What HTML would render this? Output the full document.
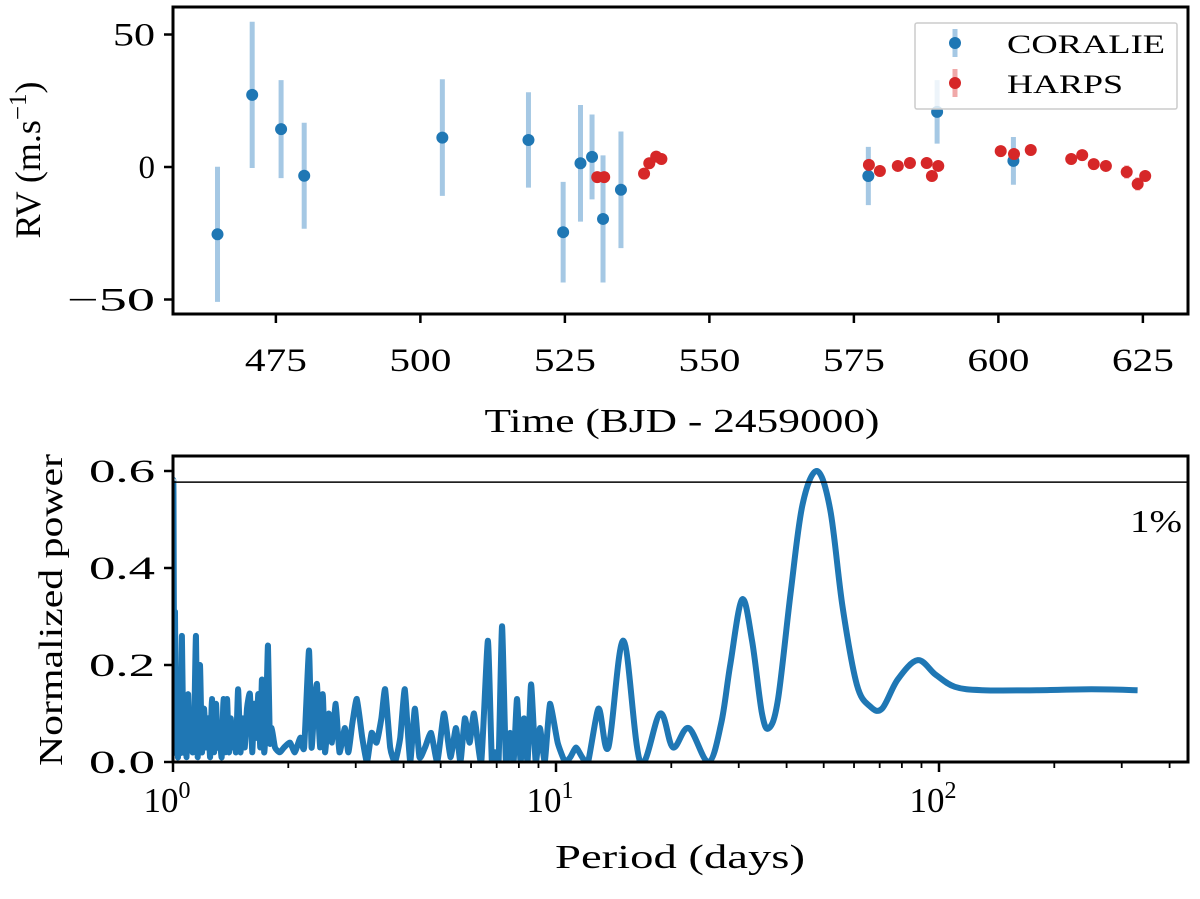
<!DOCTYPE html>
<html><head><meta charset="utf-8"><style>
body{margin:0;background:#fff}
svg text{font-family:"Liberation Serif","DejaVu Serif",serif;fill:#000}
</style></head><body>
<svg id="fig" width="1200" height="894" viewBox="0 0 1200 894" xmlns="http://www.w3.org/2000/svg">
<defs>
<clipPath id="c1"><rect x="173" y="7" width="1015" height="307"/></clipPath>
<clipPath id="c2"><rect x="173" y="456" width="1015" height="306"/></clipPath>
</defs>
<g id="topPanel"></g>
<g id="botPanel"></g>
</svg>
<script>
const coralieT=[464.9,470.9,475.9,479.9,503.8,518.7,524.7,527.7,529.7,531.6,534.7,577.5,589.4,602.6];
const coralieRV=[-25.4,27.2,14.3,-3.3,11.1,10.2,-24.6,1.4,3.8,-19.6,-8.6,-3.4,20.8,2.3];
const coralieErr=[25.5,27.6,18.5,20,22,18,19,22,16,24,22,11,12,9];
const harpsT=[530.6,531.8,538.7,539.6,540.8,541.7,577.6,579.5,582.6,584.7,587.6,588.5,589.6,600.4,602.7,605.6,612.6,614.5,616.5,618.6,622.2,624.1,625.4];
const harpsRV=[-3.8,-3.8,-2.5,1.4,3.9,3.0,0.8,-1.5,0.4,1.5,1.5,-3.4,0.4,6.0,4.9,6.4,3.0,4.5,1.1,0.4,-1.9,-6.4,-3.4];
const harpsErr=[1.5,1.5,1.5,1.5,1.5,1.5,1.5,1.5,1.5,1.5,1.5,1.5,1.5,1.5,1.5,1.5,1.5,1.5,1.5,1.5,2.5,2.5,1.5];
const topXTicks=[475,500,525,550,575,600,625];
const topYTicks=[-50,0,50];
const periods=[1.000,1.003,1.008,1.012,1.018,1.024,1.03,1.037,1.045,1.055,
1.065,1.075,1.085,1.095,1.105,1.115,1.125,1.135,1.148,1.16,
1.176,1.19,1.205,1.22,1.235,1.25,1.264,1.28,1.295,1.31,
1.325,1.34,1.355,1.37,1.384,1.40,1.415,1.43,1.445,1.46,
1.479,1.50,1.52,1.54,1.56,1.588,1.61,1.63,1.65,1.67,
1.69,1.707,1.73,1.75,1.770,1.79,1.81,1.846,1.90,1.95,
2.02,2.08,2.15,2.2,2.265,2.30,2.34,2.377,2.42,2.46,
2.494,2.55,2.60,2.66,2.72,2.81,2.87,2.94,3.02,3.12,
3.21,3.3,3.4,3.5,3.58,3.69,3.80,3.92,4.03,4.16,
4.28,4.4,4.55,4.72,4.9,5.10,5.3,5.48,5.63,5.78,
5.95,6.11,6.38,6.64,6.8,6.93,7.08,7.23,7.4,7.59,
7.75,7.91,8.08,8.25,8.43,8.61,8.85,9.08,9.35,9.64,
10.1,10.56,10.9,11.28,11.7,12.13,12.9,13.7,15.0,16.6,
18.7,20.2,22.2,25,27,28.5,30.6,32.5,34.5,36,
38,41,44,48,52,56,61,66,71,78,
88,98,110,130,180,250,330];
const powers=[0.58,0.55,0.02,0.31,0.03,0.18,0.01,0.08,0.02,0.26,
0.02,0.12,0.01,0.14,0.03,0.10,0.02,0.06,0.26,0.01,
0.20,0.02,0.11,0.03,0.09,0.01,0.13,0.02,0.12,0.03,
0.05,0.01,0.13,0.02,0.13,0.02,0.09,0.03,0.08,0.02,
0.15,0.02,0.09,0.03,0.11,0.14,0.02,0.12,0.05,0.14,
0.03,0.17,0.02,0.09,0.24,0.04,0.07,0.03,0.02,0.03,
0.04,0.02,0.05,0.03,0.23,0.03,0.12,0.16,0.03,0.14,
0.02,0.10,0.04,0.12,0.02,0.07,0.02,0.08,0.13,0.05,
0.0,0.06,0.04,0.09,0.15,0.03,0.0,0.05,0.15,0.0,
0.11,0.01,0.03,0.06,0.0,0.10,0.01,0.07,0.0,0.09,
0.04,0.10,0.0,0.25,0.0,0.02,0.0,0.28,0.0,0.06,
0.0,0.13,0.0,0.09,0.0,0.16,0.0,0.07,0.0,0.12,
0.04,0.0,0.01,0.03,0.01,0.0,0.11,0.03,0.25,0.0,
0.10,0.03,0.07,0.0,0.08,0.2,0.335,0.25,0.1,0.07,
0.13,0.35,0.53,0.6,0.52,0.32,0.16,0.115,0.11,0.17,
0.21,0.18,0.155,0.148,0.148,0.15,0.148];
const fapLevel=[0.577];
const botYTicks=[0.0,0.2,0.4,0.6];
const botYLabels=["0.0","0.2","0.4","0.6"];
const botXDecades=[0,1,2];

const NS="http://www.w3.org/2000/svg";
function mk(tag,attrs,parent){const e=document.createElementNS(NS,tag);for(const k in attrs)e.setAttribute(k,attrs[k]);parent.appendChild(e);return e;}
const topG=document.getElementById('topPanel'),botG=document.getElementById('botPanel');
const X1=t=>173+(t-457.2)*5.78;
const Y1=v=>167-v*2.65;
const gErr=mk('g',{'clip-path':'url(#c1)'},topG);
coralieT.forEach((t,i)=>{
  const l=mk('line',{x1:X1(t),x2:X1(t),y1:Y1(coralieRV[i]+coralieErr[i]),y2:Y1(coralieRV[i]-coralieErr[i]),stroke:'#a5c8e4','stroke-width':5},gErr);
  
  
});
harpsT.forEach((t,i)=>{
  const l=mk('line',{x1:X1(t),x2:X1(t),y1:Y1(harpsRV[i]+harpsErr[i]),y2:Y1(harpsRV[i]-harpsErr[i]),stroke:'#f0a9a9','stroke-width':5},gErr);
  
  
});
coralieT.forEach((t,i)=>{
  const c=mk('circle',{cx:X1(t),cy:Y1(coralieRV[i]),r:6,fill:'#1f77b4'},gErr);
  
  
});
harpsT.forEach((t,i)=>{
  const c=mk('circle',{cx:X1(t),cy:Y1(harpsRV[i]),r:6,fill:'#d62728'},gErr);
  
  
});
topXTicks.forEach(t=>{
  mk('line',{x1:X1(t),x2:X1(t),y1:314,y2:323,stroke:'#000','stroke-width':2.5},topG);
  const tx=mk('text',{x:X1(t),y:371,'font-size':33,'text-anchor':'middle',textLength:62,lengthAdjust:'spacingAndGlyphs'},topG);tx.textContent=t;
  
  
});
topYTicks.forEach(v=>{
  mk('line',{x1:164,x2:173,y1:Y1(v),y2:Y1(v),stroke:'#000','stroke-width':2.5},topG);
  const at={x:155,y:Y1(v)+11,'font-size':33,'text-anchor':'end'};
  if(v<0){at.textLength=88;at.lengthAdjust='spacingAndGlyphs';}
  else if(v>0){at.textLength=42;at.lengthAdjust='spacingAndGlyphs';}
  const tx=mk('text',at,topG);tx.textContent=v<0?'\u2212'+(-v):v;
  
  
});
mk('rect',{x:173,y:7,width:1015,height:307,fill:'none',stroke:'#000','stroke-width':3},topG);
const lg=mk('g',{},topG);


mk('rect',{x:915,y:23,width:262,height:86,fill:'#fff','fill-opacity':0.8,stroke:'#ccc','stroke-width':1.5,rx:2},lg);
mk('line',{x1:955,x2:955,y1:29,y2:57,stroke:'#a5c8e4','stroke-width':5},lg);
mk('circle',{cx:955,cy:43,r:6,fill:'#1f77b4'},lg);
mk('line',{x1:955,x2:955,y1:69,y2:97,stroke:'#f0a9a9','stroke-width':5},lg);
mk('circle',{cx:955,cy:83,r:6,fill:'#d62728'},lg);
let t1=mk('text',{x:1007,y:53,'font-size':26,textLength:158,lengthAdjust:'spacingAndGlyphs'},lg);t1.textContent='CORALIE';
let t2=mk('text',{x:1007,y:93,'font-size':26,textLength:116,lengthAdjust:'spacingAndGlyphs'},lg);t2.textContent='HARPS';
let xl=mk('text',{x:682,y:432,'font-size':34,'text-anchor':'middle',textLength:395,lengthAdjust:'spacingAndGlyphs'},topG);xl.textContent='Time (BJD - 2459000)';


let yl=mk('text',{x:0,y:0,'font-size':36,'text-anchor':'middle',transform:'translate(40,160) rotate(-90)'},topG);
yl.innerHTML='RV (m.s<tspan dy="-14" font-size="25">\u22121</tspan><tspan dy="14">)</tspan>';



const X2=p=>173+Math.log10(p)*383;
const Y2=v=>762-v*485;
const pts=periods.map((p,i)=>[X2(p),Y2(powers[i])]);
let d='M'+pts[0][0]+','+pts[0][1];
for(let i=0;i<pts.length-1;i++){
  const p0=pts[Math.max(0,i-1)],p1=pts[i],p2=pts[i+1],p3=pts[Math.min(pts.length-1,i+2)];
  const k=i>=126?1/6:1/12;
  d+=' C'+(p1[0]+(p2[0]-p0[0])*k)+','+(p1[1]+(p2[1]-p0[1])*k)+' '+(p2[0]-(p3[0]-p1[0])*k)+','+(p2[1]-(p3[1]-p1[1])*k)+' '+p2[0]+','+p2[1];
}
const pl=mk('path',{d:d,fill:'none',stroke:'#1f77b4','stroke-width':6,'stroke-linejoin':'round','clip-path':'url(#c2)'},botG);


const fl=mk('line',{x1:173,x2:1188,y1:Y2(fapLevel[0]),y2:Y2(fapLevel[0]),stroke:'#000','stroke-width':1.5},botG);


let ft=mk('text',{x:1182,y:532,'font-size':32,'text-anchor':'end',textLength:52,lengthAdjust:'spacingAndGlyphs'},botG);ft.textContent='1%';


botYTicks.forEach((v,i)=>{
  mk('line',{x1:164,x2:173,y1:Y2(v),y2:Y2(v),stroke:'#000','stroke-width':2.5},botG);
  const tx=mk('text',{x:155,y:Y2(v)+11,'font-size':33,'text-anchor':'end',textLength:66,lengthAdjust:'spacingAndGlyphs'},botG);tx.textContent=botYLabels[i];
  
  
});
botXDecades.forEach(e=>{
  const x=X2(Math.pow(10,e));
  mk('line',{x1:x,x2:x,y1:762,y2:772,stroke:'#000','stroke-width':2.5},botG);
  const tx=mk('text',{x:x-6,y:812,'font-size':35,'text-anchor':'middle'},botG);
  tx.innerHTML='10<tspan dy="-14" font-size="24">'+e+'</tspan>';
  
  
  for(let m=2;m<10;m++){const xm=X2(m*Math.pow(10,e));if(xm<1188)mk('line',{x1:xm,x2:xm,y1:762,y2:768,stroke:'#000','stroke-width':1.8},botG);}
});
mk('rect',{x:173,y:456,width:1015,height:306,fill:'none',stroke:'#000','stroke-width':3},botG);
let xl2=mk('text',{x:680,y:868,'font-size':34,'text-anchor':'middle',textLength:250,lengthAdjust:'spacingAndGlyphs'},botG);xl2.textContent='Period (days)';


let yl2=mk('text',{x:0,y:0,'font-size':34,'text-anchor':'middle',textLength:312,lengthAdjust:'spacingAndGlyphs',transform:'translate(62,610) rotate(-90)'},botG);yl2.textContent='Normalized power';


</script>
</body></html>
